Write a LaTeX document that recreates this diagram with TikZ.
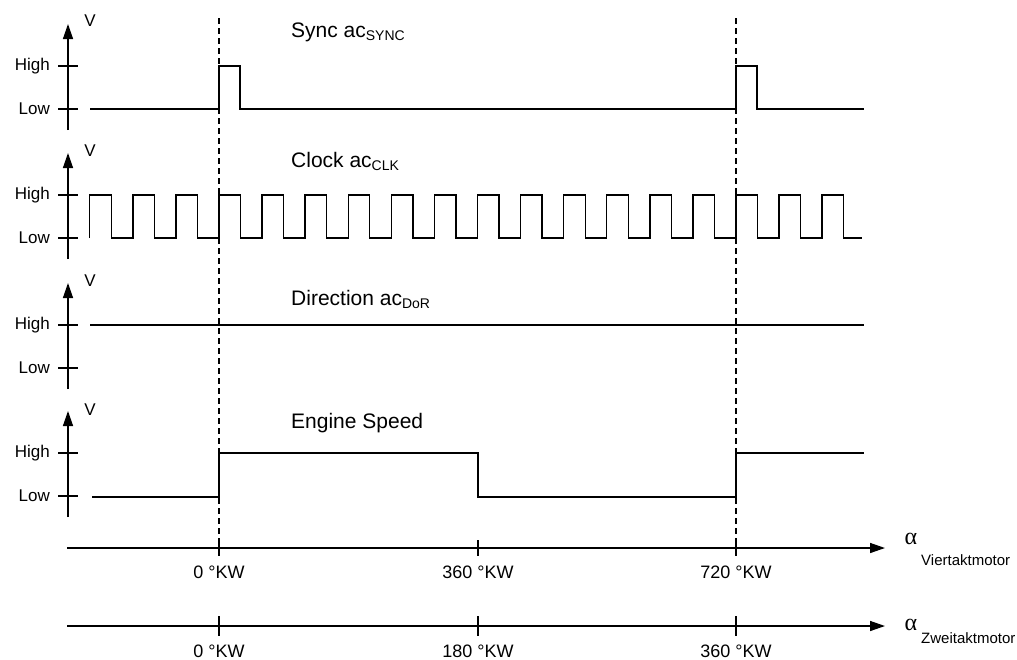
\documentclass[tikz,border=0pt]{standalone}
\usepackage{fontspec}
\setmainfont{Liberation Sans}
\newfontfamily\alphafont{Liberation Serif}
\usetikzlibrary{arrows.meta}
\newcommand{\lowidx}[1]{\raisebox{-3pt}{\fontsize{14}{14}\selectfont #1}}
\begin{document}
\begin{tikzpicture}[x=1pt,y=-1pt,
  sig/.style={line width=1.4pt},
  axisline/.style={line width=1.4pt,-{Triangle[length=15pt,width=10pt]}},
  tickline/.style={line width=1.4pt},
  dashline/.style={line width=1.4pt,dash pattern=on 6pt off 4pt},
  lbl/.style={font=\fontsize{17}{17}\selectfont,inner sep=0pt},
  ttl/.style={font=\fontsize{21}{21}\selectfont,inner sep=0pt,anchor=base west},
  kw/.style={font=\fontsize{18}{18}\selectfont,inner sep=0pt,anchor=base},
  sublbl/.style={font=\fontsize{15}{15}\selectfont,inner sep=0pt,anchor=base west},
  alph/.style={font=\alphafont\fontsize{24}{24}\selectfont,inner sep=0pt}]
\useasboundingbox (0,0) rectangle (1017,659);

% dashed reference lines
\draw[dashline] (219,18) -- (219,556);
\draw[dashline] (736,18) -- (736,556);

% panel axes
\foreach \H/\n/\vy in {66/s/21,195/c/151,325/d/281,453/e/410}{
  \coordinate (ax\n b) at (68,\H+64);
  \coordinate (ax\n t) at (68,\H-42);
  \draw[axisline] (ax\n b) -- (ax\n t);
  \draw[tickline] (58,\H) -- (78,\H);
  \draw[tickline] (58,\H+43) -- (78,\H+43);
  \node[lbl,anchor=east] (hi\n) at (50,\H) {High};
  \node[lbl,anchor=east] (lo\n) at (50,\H+43) {Low};
  \node[lbl] (v\n) at (90,\vy) {V};
}

% titles
\node[ttl] (tsync) at (291,37) {Sync ac\lowidx{SYNC}};
\node[ttl] (tclk) at (291,167) {Clock ac\lowidx{CLK}};
\node[ttl] (tdor) at (291,305) {Direction ac\lowidx{DoR}};
\node[ttl] (teng) at (291,428) {Engine Speed};

% sync signal
\draw[sig] (90,109) -- (219,109) -- (219,66) -- (240,66) -- (240,109)
  -- (736,109) -- (736,66) -- (757,66) -- (757,109) -- (864,109);

% clock signal
\draw[sig] (89.75,238) \foreach \k in {0,...,17}{
   -- ({89.75+43.083*\k},238) -- ({89.75+43.083*\k},195)
   -- ({111.29+43.083*\k},195) -- ({111.29+43.083*\k},238)} -- (862,238);

% direction
\draw[sig] (90,325) -- (864,325);

% engine speed
\draw[sig] (92,497) -- (219,497) -- (219,453) -- (478,453) -- (478,497)
  -- (736,497) -- (736,453) -- (864,453);

% crank angle axes
\coordinate (v0) at (67,548);
\coordinate (v1) at (885,548);
\draw[axisline] (v0) -- (v1);
\coordinate (z0) at (67,626);
\coordinate (z1) at (885,626);
\draw[axisline] (z0) -- (z1);
\foreach \x in {219,478,736}{
  \draw[tickline] (\x,540) -- (\x,556);
  \draw[tickline] (\x,616) -- (\x,636);
}
\node[kw] (k1) at (219,578) {0 °KW};
\node[kw] (k2) at (478,578) {360 °KW};
\node[kw] (k3) at (736,578) {720 °KW};
\node[kw] (k4) at (219,657) {0 °KW};
\node[kw] (k5) at (478,657) {180 °KW};
\node[kw] (k6) at (736,657) {360 °KW};

\node[alph] (a1) at (911,539) {α};
\node[sublbl] (s1) at (921,565) {Viertaktmotor};
\node[alph] (a2) at (911,625) {α};
\node[sublbl] (s2) at (921,643) {Zweitaktmotor};
\end{tikzpicture}
\end{document}
